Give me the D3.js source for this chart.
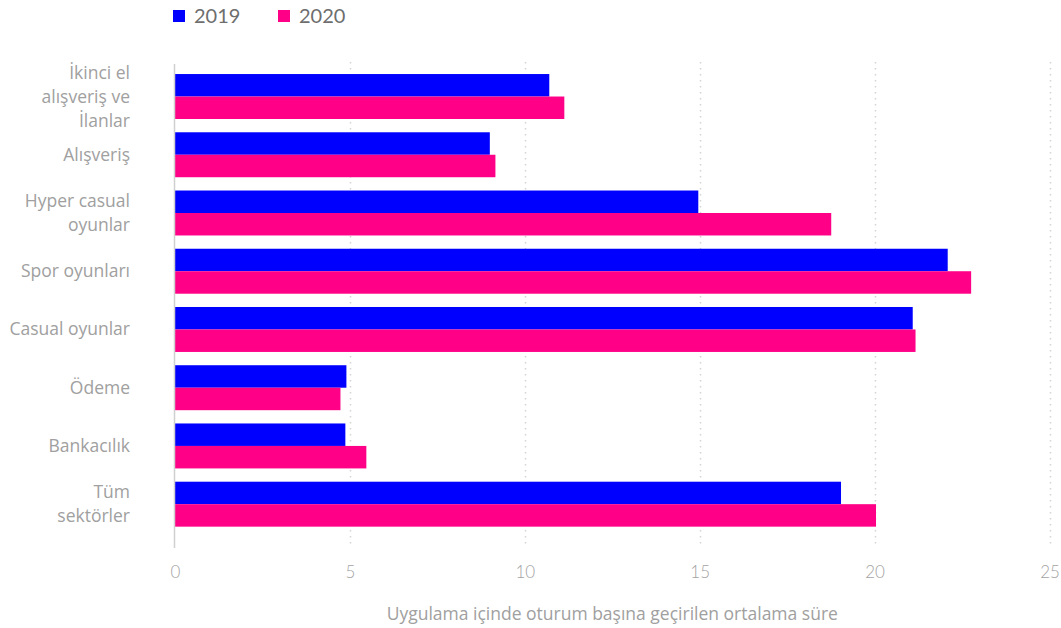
<!DOCTYPE html>
<html>
<head>
<meta charset="utf-8">
<script src="https://cdn.jsdelivr.net/npm/d3@7"></script>
<style>
  body { margin: 0; background: #fff; font-family: "Open Sans", Lato, sans-serif; }
</style>
</head>
<body>
<div id="chart"></div>
<script>
// data
var categories = [
    ["İkinci el", "alışveriş ve", "İlanlar"],
    ["Alışveriş"],
    ["Hyper casual", "oyunlar"],
    ["Spor oyunları"],
    ["Casual oyunlar"],
    ["Ödeme"],
    ["Bankacılık"],
    ["Tüm", "sektörler"]
];
var series = ["2019", "2020"];
var values2019 = [10.7, 9.0, 14.96, 22.09, 21.09, 4.9, 4.87, 19.04];
var values2020 = [11.13, 9.16, 18.76, 22.76, 21.17, 4.73, 5.47, 20.04];
var xTicks = [0, 5, 10, 15, 20, 25];
var colors = ["#0000ff", "#ff0087"];

(function () {
    var width = 1061, height = 628;
    var margin = { top: 62, right: 11, bottom: 80, left: 175 };

    var svg = d3.select("#chart")
                .append("svg")
                .attr("width", width)
                .attr("height", height);

    var xScale = d3.scaleLinear()
                   .domain([0, 25])
                   .range([margin.left, width - margin.right - 0.5]);

    var yScale = d3.scaleBand()
                   .domain(d3.range(categories.length))
                   .range([67.4, 533.3])
                   .paddingInner(0.228)
                   .paddingOuter(0.114);

    var ySub = d3.scaleBand()
                 .domain(series)
                 .range([0, yScale.bandwidth()]);

    // dotted gridlines
    svg.append("g")
        .selectAll("line")
        .data(xTicks.slice(1))
        .enter()
        .append("line")
        .attr("x1", function(d) { return Math.round(xScale(d)) + 0.5; })
        .attr("x2", function(d) { return Math.round(xScale(d)) + 0.5; })
        .attr("y1", margin.top)
        .attr("y2", 548)
        .attr("stroke", "#d4d4d4")
        .attr("stroke-width", 1.5)
        .attr("stroke-dasharray", "1.5,4.5");

    // bars
    var data = [];
    categories.forEach(function(c, i) {
        data.push({ i: i, s: "2019", v: values2019[i], c: colors[0] });
        data.push({ i: i, s: "2020", v: values2020[i], c: colors[1] });
    });

    svg.append("g")
        .selectAll("rect")
        .data(data)
        .enter()
        .append("rect")
        .attr("x", xScale(0))
        .attr("y", function(d) { return yScale(d.i) + ySub(d.s); })
        .attr("width", function(d) { return xScale(d.v) - xScale(0); })
        .attr("height", ySub.bandwidth())
        .attr("fill", function(d) { return d.c; });

    // zero line
    svg.append("line")
        .attr("x1", xScale(0) - 0.5)
        .attr("x2", xScale(0) - 0.5)
        .attr("y1", 64)
        .attr("y2", 548)
        .attr("stroke", "#d0d0d0")
        .attr("stroke-width", 1.5);

    // x tick labels
    var xAxis = svg.append("g")
        .attr("transform", "translate(0,562)")
        .call(d3.axisBottom(xScale).tickValues(xTicks).tickSize(0).tickPadding(4));
    xAxis.select(".domain").remove();
    xAxis.selectAll("text")
        .style("font-family", "Lato, sans-serif")
        .style("font-size", "17px")
        .style("font-weight", "300")
        .attr("fill", "#a3a3a3");

    // category labels
    var labels = svg.append("g")
        .selectAll("text")
        .data(categories)
        .enter()
        .append("text")
        .attr("text-anchor", "end")
        .attr("fill", "#a0a0a0")
        .style("font-size", "17.5px")
        .attr("y", function(d, i) {
            return yScale(i) + yScale.bandwidth() / 2 - (d.length - 1) * 12 + 6;
        });
    labels.selectAll("tspan")
        .data(function(d) { return d; })
        .enter()
        .append("tspan")
        .attr("x", 130)
        .attr("dy", function(d, j) { return j === 0 ? 0 : 24; })
        .text(function(d) { return d; });

    // axis title
    svg.append("text")
        .attr("x", (xScale(0) + xScale(25)) / 2)
        .attr("y", 620)
        .attr("text-anchor", "middle")
        .attr("fill", "#a0a0a0")
        .style("font-size", "17.5px")
        .text("Uygulama içinde oturum başına geçirilen ortalama süre");

    // legend
    var legend = svg.append("g")
        .selectAll("g")
        .data(series)
        .enter()
        .append("g")
        .attr("transform", function(d, i) { return "translate(" + (173 + i * 105) + ",0)"; });
    legend.append("rect")
        .attr("y", 10)
        .attr("width", 12)
        .attr("height", 12)
        .attr("fill", function(d, i) { return colors[i]; });
    legend.append("text")
        .attr("x", 21)
        .attr("y", 23)
        .attr("fill", "#6e6e6e")
        .style("font-family", "Lato, sans-serif")
        .style("font-size", "20px")
        .text(function(d) { return d; });
})();
</script>
</body>
</html>
